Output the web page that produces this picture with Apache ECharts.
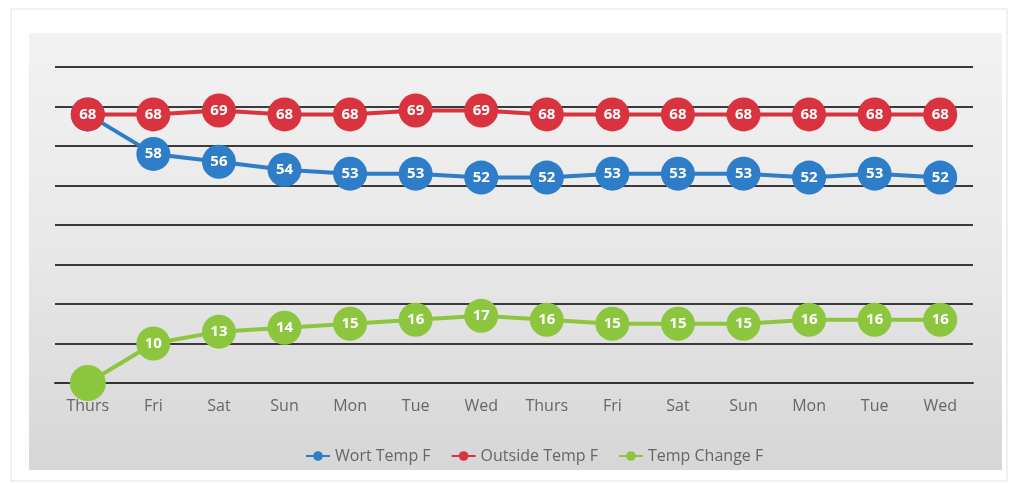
<!DOCTYPE html>
<html>
<head>
<meta charset="utf-8">
<script src="https://cdn.jsdelivr.net/npm/echarts@6/dist/echarts.min.js"></script>
<style>html,body{margin:0;padding:0;background:#fff;}#c{width:1010px;height:483px;}</style>
</head>
<body>
<div id="c"></div>
<script>
const categories = ['Thurs','Fri','Sat','Sun','Mon','Tue','Wed','Thurs','Fri','Sat','Sun','Mon','Tue','Wed'];
const wortTemp = [68,58,56,54,53,53,52,52,53,53,53,52,53,52];
const outsideTemp = [68,68,69,68,68,69,69,68,68,68,68,68,68,68];
const tempChange = [0,10,13,14,15,16,17,16,15,15,15,16,16,16];

const chart = echarts.init(document.getElementById('c'));
const labelStyle = {show:true, position:'inside', color:'#fff', fontWeight:'bold', fontSize:15, fontFamily:'Open Sans'};
function mk(name, data, color, z){
  return {
    name, type:'line', data, z,
    symbol:'circle', symbolSize:34,
    lineStyle:{color, width:4},
    itemStyle:{color},
    label:labelStyle,
    emphasis:{disabled:true},
    animation:false
  };
}
const green = mk('Temp Change F', tempChange.map((v,i)=> i===0 ? {value:v, symbolSize:36, label:{show:false}} : v), '#8cc63f', 3);
chart.setOption({
  animation:false,
  graphic:[
    {type:'rect', z:-10, shape:{x:11,y:9,width:996,height:472}, style:{fill:'#fff', stroke:'#e2e2e2', lineWidth:1}},
    {type:'rect', z:-9, shape:{x:29,y:33,width:973,height:437},
      style:{fill:new echarts.graphic.LinearGradient(0,0,0,1,[{offset:0,color:'#f2f2f2'},{offset:0.5,color:'#e8e8e8'},{offset:1,color:'#d6d6d6'}])}}
  ],
  grid:{left:55, right:37, top:67, bottom:100},
  xAxis:{type:'category', data:categories, boundaryGap:true,
    axisLine:{show:true, lineStyle:{color:'#333', width:2}},
    axisTick:{show:false},
    axisLabel:{color:'#666', fontSize:16, margin:15, fontFamily:'Open Sans'}},
  yAxis:{type:'value', min:0, max:80, interval:10,
    axisLabel:{show:false}, axisLine:{show:false}, axisTick:{show:false},
    splitLine:{lineStyle:{color:'#3a3a3a', width:2}}},
  legend:{bottom:14, left:300, itemWidth:24, itemHeight:12, itemGap:20,
    textStyle:{color:'#666', fontSize:16, fontFamily:'Open Sans'},
    data:['Wort Temp F','Outside Temp F','Temp Change F']},
  series:[
    mk('Wort Temp F', wortTemp, '#2e7dc8', 2),
    mk('Outside Temp F', outsideTemp, '#d8333f', 4),
    green
  ]
});
</script>
</body>
</html>
